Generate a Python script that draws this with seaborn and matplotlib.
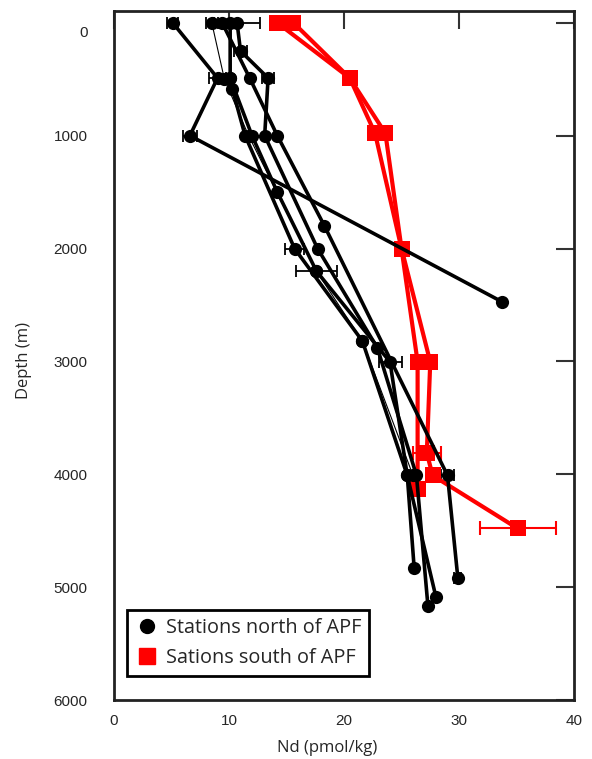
import numpy as np
import pandas as pd
import matplotlib
matplotlib.use("Agg")
import matplotlib.pyplot as plt
import matplotlib.transforms as mtransforms
from matplotlib.lines import Line2D
import seaborn as sns

# north of APF profiles (Nd, depth)
n1_nd = [5.1, 9.0, 6.6, 33.7]
n1_dep = [0, 490, 1000, 2470]
n2_nd = [8.5, 9.6, 11.7, 17.6, 21.6, 26.0]
n2_dep = [0, 500, 1000, 2200, 2820, 4010]
n3_nd = [10.1, 10.1, 10.3, 11.4, 15.7, 21.6, 25.5, 26.1]
n3_dep = [0, 490, 590, 1000, 2000, 2820, 4010, 4830]
n4_nd = [10.7, 11.0, 13.4, 13.1, 17.7, 22.9, 26.3, 27.3]
n4_dep = [0, 250, 490, 1000, 2000, 2880, 4010, 5170]
n5_nd = [9.4, 11.8, 14.2, 18.3, 29.0, 29.9]
n5_dep = [0, 490, 1000, 1800, 4010, 4920]
n6_nd = [10.1, 12.0, 14.2, 17.6, 24.0, 25.5, 28.0]
n6_dep = [490, 1000, 1500, 2200, 3005, 4010, 5090]

# south of APF profiles
s1_nd = [14.2, 20.5, 22.7, 25.0, 26.4, 26.4]
s1_dep = [0, 490, 980, 2000, 3005, 4130]
s2_nd = [15.6, 20.5, 23.6, 25.0, 27.5, 27.2, 27.7, 35.1]
s2_dep = [0, 490, 980, 2000, 3005, 3810, 4010, 4480]

# error bars (Nd, depth, +/-)
n_err_nd = [5.1, 8.5, 10.7, 11.0, 9.0, 13.4, 6.6, 15.7, 17.6, 24.0, 29.0, 29.9]
n_err_dep = [0, 0, 0, 250, 490, 490, 1000, 2000, 2200, 3005, 4010, 4920]
n_err = [0.5, 0.5, 2.0, 0.6, 0.7, 0.5, 0.6, 0.8, 1.75, 1.0, 0.6, 0.3]
s_err_nd = [27.2, 35.1, 26.4]
s_err_dep = [3810, 4480, 4130]
s_err = [1.2, 3.3, 0.4]

sns.set_style("white")
plt.rcParams['font.family'] = ['Liberation Sans', 'DejaVu Sans']

fig = plt.figure(figsize=(5.92, 7.59), dpi=100)
ax = fig.add_axes([0.1926, 0.0777, 0.777, 0.9078])

ax.errorbar(n_err_nd, n_err_dep, xerr=n_err, fmt='none', ecolor='black',
            elinewidth=1.3, capsize=4, capthick=1.3, zorder=1)
ax.errorbar(s_err_nd, s_err_dep, xerr=s_err, fmt='none', ecolor='red',
            elinewidth=1.5, capsize=5, capthick=1.5, zorder=1)

north = [(n1_nd, n1_dep, 2.6), (n2_nd, n2_dep, 0.8), (n3_nd, n3_dep, 2.6),
         (n4_nd, n4_dep, 2.6), (n5_nd, n5_dep, 2.6), (n6_nd, n6_dep, 2.6)]
for nd, dep, lw in north:
    sns.lineplot(x=nd, y=dep, sort=False, estimator=None, color='black',
                 lw=lw, marker='o', markersize=9.5, markeredgewidth=0, ax=ax, zorder=3)

for nd, dep in [(s1_nd, s1_dep), (s2_nd, s2_dep)]:
    sns.lineplot(x=nd, y=dep, sort=False, estimator=None, color='red',
                 lw=3, marker='s', markersize=11.5, markeredgewidth=0, ax=ax, zorder=2)

ax.set_xlim(0, 40)
ax.set_ylim(6000, -104)
ax.set_xticks([0, 10, 20, 30, 40])
ax.set_yticks([0, 1000, 2000, 3000, 4000, 5000, 6000])
ax.tick_params(direction='in', length=13, width=1.5, color='#333333',
               top=True, right=True, labelsize=11)
ax.tick_params(axis='y', pad=19)
ax.tick_params(axis='x', pad=10)
for s in ax.spines.values():
    s.set_linewidth(2)
    s.set_color('#222222')

# nudge the "0" depth label down a bit like the original
lab0 = ax.get_yticklabels()[0]
lab0.set_transform(lab0.get_transform() + mtransforms.ScaledTranslation(0, -0.09, fig.dpi_scale_trans))

ax.set_xlabel('Nd (pmol/kg)', family=['Open Sans', 'DejaVu Sans'], fontsize=12)
ax.set_ylabel('Depth (m)', family=['Open Sans', 'DejaVu Sans'], fontsize=12)
ax.xaxis.set_label_coords(0.463, -0.058)
ax.yaxis.set_label_coords(-0.178, 0.493)

handles = [Line2D([], [], color='black', marker='o', ls='none', markersize=10),
           Line2D([], [], color='red', marker='s', ls='none', markersize=11)]
leg = ax.legend(handles, ['Stations north of APF', 'Sations south of APF'],
                loc='lower left', bbox_to_anchor=(0.028, 0.035), borderaxespad=0,
                fancybox=False, edgecolor='black', framealpha=1,
                handletextpad=0.35, handlelength=1.2,
                borderpad=0.4, labelspacing=0.5,
                prop={'family': ['Open Sans', 'DejaVu Sans'], 'size': 14.3})
leg.get_frame().set_linewidth(2)

fig.savefig('out.png', dpi=100)
